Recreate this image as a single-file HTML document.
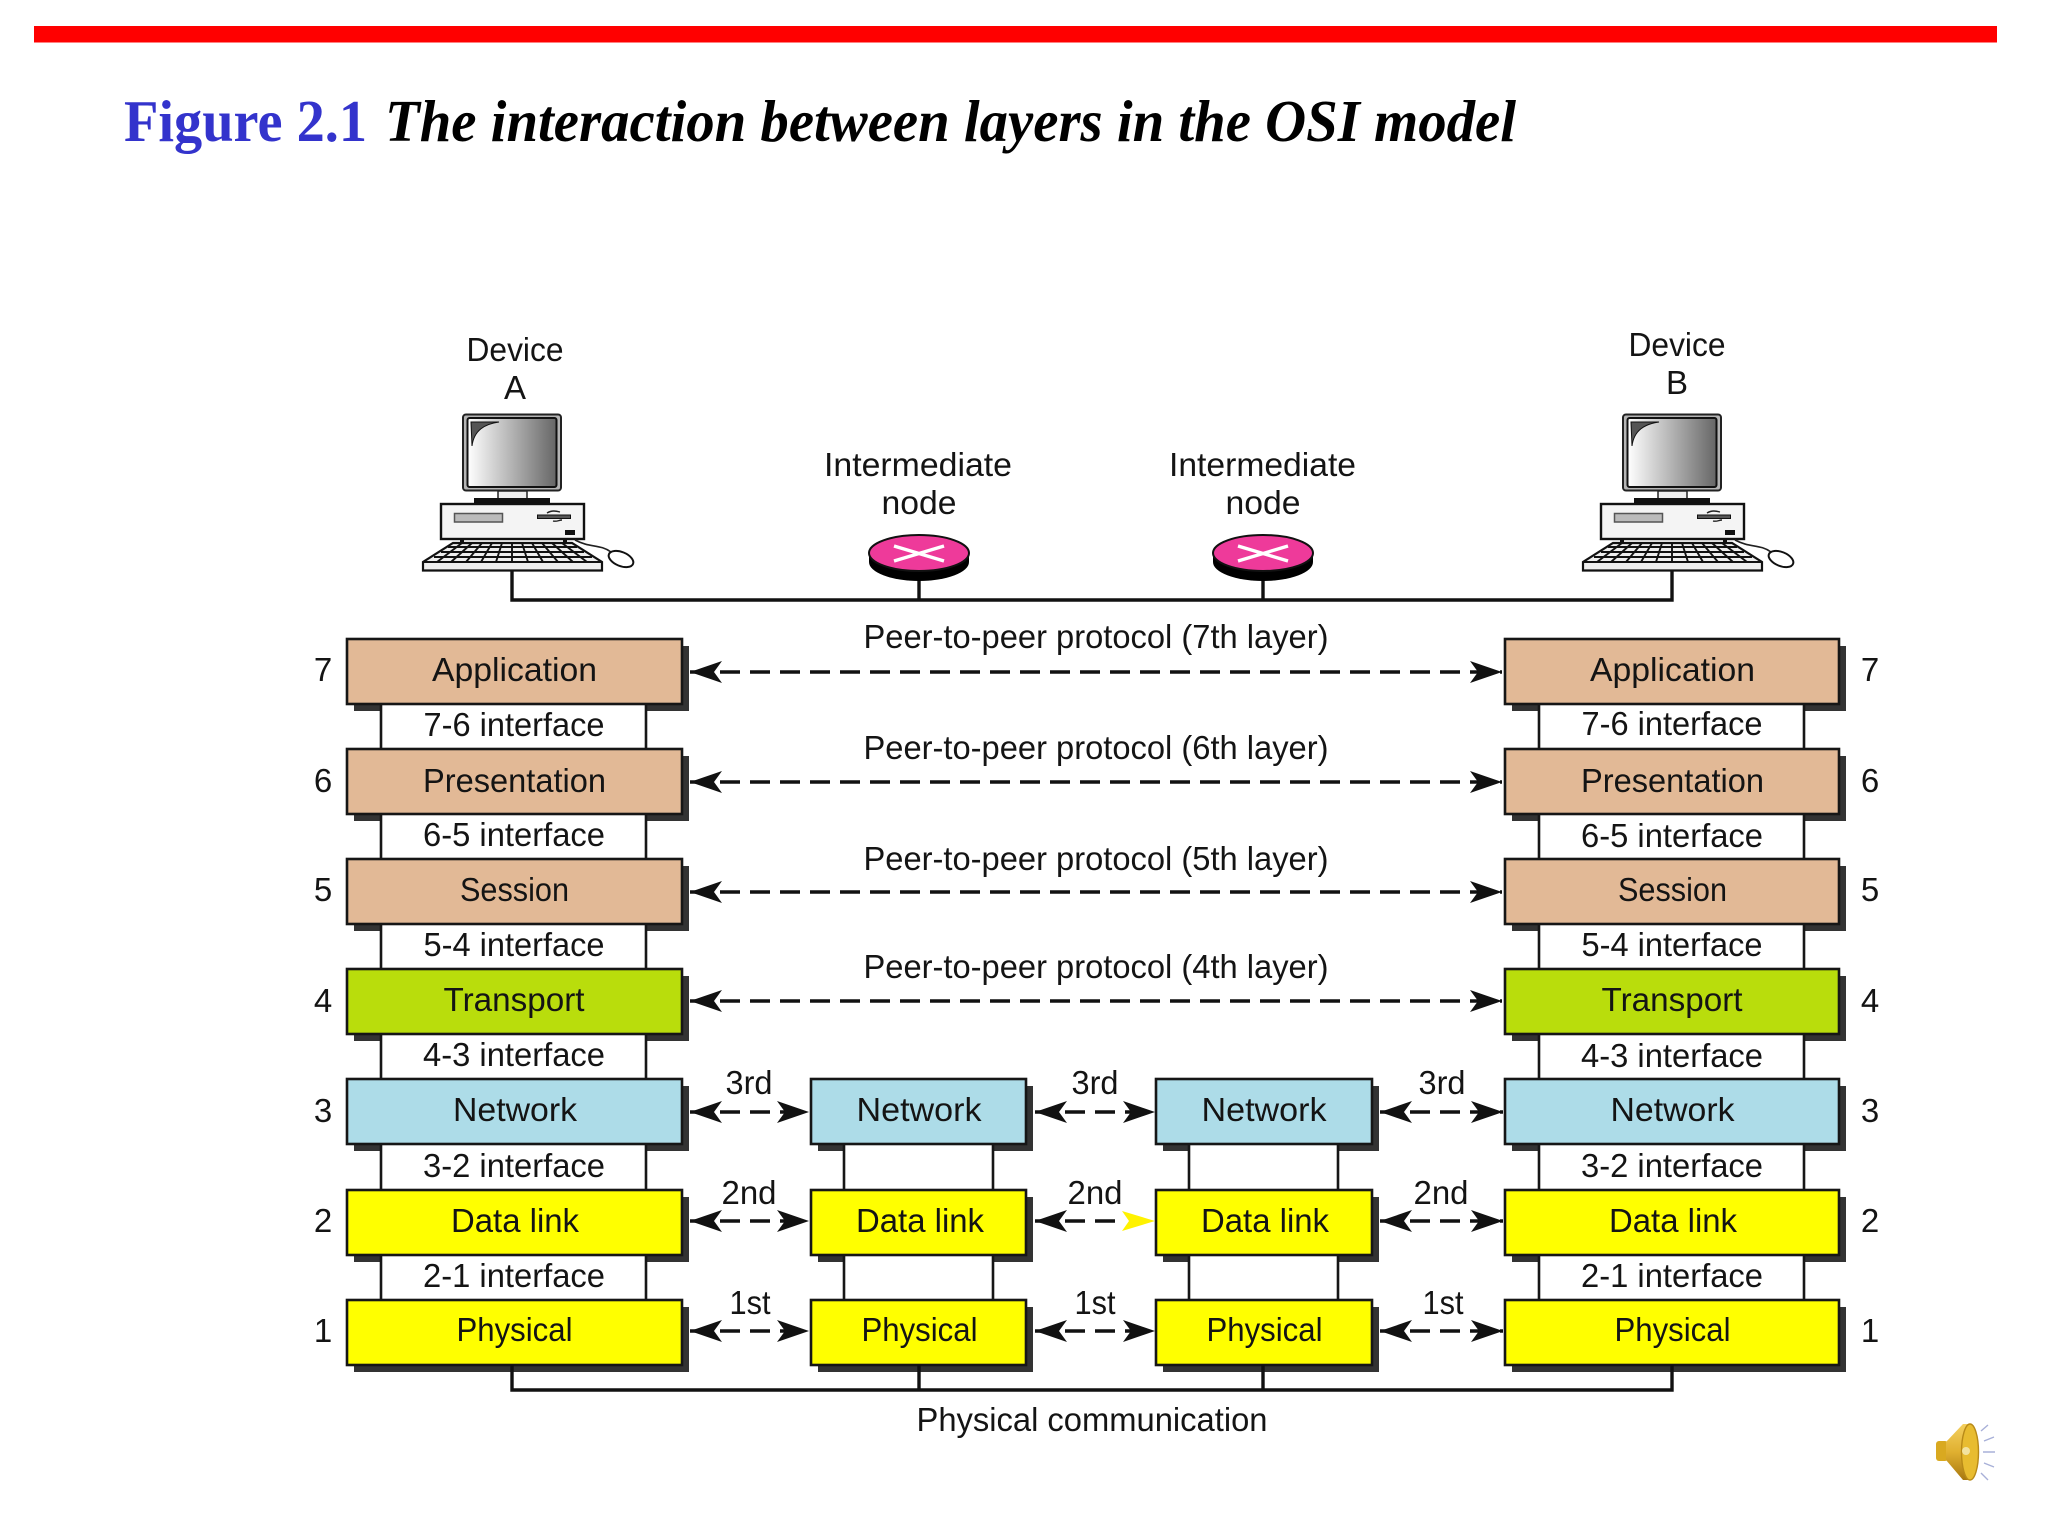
<!DOCTYPE html>
<html><head><meta charset="utf-8"><title>Figure 2.1</title>
<style>
html,body{margin:0;padding:0;background:#fff}
svg{display:block}
text{font-family:"Liberation Sans",sans-serif;font-size:33px;fill:#141414;text-anchor:middle}
.t{font-family:"Liberation Serif",serif;font-size:59px;font-weight:bold;text-anchor:start}
.b{fill:#333}
.box{stroke:#161616;stroke-width:2.6}
.tan{fill:#E2B996}.lime{fill:#B9DD0C}.blue{fill:#ADDCE8}.yel{fill:#FFFF00}
.if{fill:#fff;stroke:none}
.v{stroke:#161616;stroke-width:2.6}
.l{stroke:#111;stroke-width:3.4;fill:none}
.d{stroke:#111;stroke-width:3.6;stroke-dasharray:20 10;marker-start:url(#ah);marker-end:url(#ah)}
</style></head>
<body>
<svg xmlns="http://www.w3.org/2000/svg" width="2048" height="1536" viewBox="0 0 2048 1536">
<defs>
<marker id="ah" markerUnits="userSpaceOnUse" markerWidth="33" markerHeight="23" viewBox="0 0 33 23" refX="32" refY="11.5" orient="auto-start-reverse"><path d="M32,11.5 L0,0.5 L8,11.5 L0,22.5 Z" fill="#111"/></marker>
<linearGradient id="scr" x1="0" x2="1" y1="0" y2="0"><stop offset="0" stop-color="#fff"/><stop offset="1" stop-color="#666"/></linearGradient>
<linearGradient id="gold" x1="0" x2="0" y1="0" y2="1"><stop offset="0" stop-color="#F4D060"/><stop offset=".5" stop-color="#E0B030"/><stop offset="1" stop-color="#A87810"/></linearGradient>
<g id="pc">
<rect x="463" y="414.5" width="98" height="76" rx="3" fill="#b5b5b5" stroke="#222" stroke-width="2"/>
<rect x="467.5" y="418" width="89" height="69" rx="2" fill="url(#scr)" stroke="#111" stroke-width="2"/>
<path d="M471,422 L499,422 C485,424 474,430 472,446 Z" fill="#555" stroke="#111" stroke-width="1"/>
<rect x="498" y="491" width="29" height="8" fill="#eee" stroke="#222" stroke-width="1.5"/>
<rect x="474" y="498" width="76" height="6" fill="#111"/>
<rect x="441" y="504" width="143" height="35" fill="#f4f4f4" stroke="#111" stroke-width="2.4"/>
<rect x="454.5" y="513.5" width="48" height="8.5" fill="#bbb" stroke="#555" stroke-width="1.5"/>
<rect x="537.5" y="515" width="33" height="3.5" fill="#555" stroke="#111" stroke-width="1"/>
<path d="M547,513 C552,510 556,511 560,512 M553,521 C557,522 559,520 562,520" stroke="#222" stroke-width="1.4" fill="none"/>
<rect x="565" y="530" width="10" height="5" fill="#111"/>
<rect x="460" y="539" width="4" height="5" fill="#111"/><rect x="563" y="539" width="4" height="5" fill="#111"/>
<path d="M575,540 C590,548 600,544 611,552" stroke="#222" stroke-width="1.6" fill="none"/>
<ellipse cx="621" cy="559" rx="13" ry="7" transform="rotate(22 621 559)" fill="#fff" stroke="#111" stroke-width="2"/>
<path d="M453,543 L572,543 L602,562 L602,570.5 L423,570.5 L423,562 Z" fill="#eee" stroke="#111" stroke-width="2.2"/>
<path d="M448,547 L577,547 M441,552 L584,552 M434,557 L592,557 M423,562 L602,562 M462,543 L437,562 M472,543 L451,562 M482,543 L466,562 M492,543 L481,562 M502,543 L496,562 M512,543 L512,562 M522,543 L528,562 M532,543 L543,562 M542,543 L558,562 M552,543 L573,562 M562,543 L587,562" stroke="#111" stroke-width="1.9" fill="none"/>
</g>
</defs>
<rect width="2048" height="1536" fill="#fff"/>
<rect x="34" y="26" width="1963" height="16.5" fill="#FF0000"/>
<text class="t" x="124" y="141" textLength="243" lengthAdjust="spacingAndGlyphs" style="fill:#3333CC">Figure 2.1</text>
<text class="t" x="385" y="141" textLength="1131" lengthAdjust="spacingAndGlyphs" style="font-style:italic;fill:#000">The interaction between layers in the OSI model</text>

<text x="515" y="361" textLength="97" lengthAdjust="spacingAndGlyphs">Device</text>
<text x="515" y="399">A</text>
<text x="1677" y="356" textLength="97" lengthAdjust="spacingAndGlyphs">Device</text>
<text x="1677" y="394">B</text>
<text x="918" y="476" textLength="188" lengthAdjust="spacingAndGlyphs">Intermediate</text>
<text x="919" y="514" textLength="75" lengthAdjust="spacingAndGlyphs">node</text>
<text x="1262.5" y="476" textLength="187" lengthAdjust="spacingAndGlyphs">Intermediate</text>
<text x="1263" y="514" textLength="75" lengthAdjust="spacingAndGlyphs">node</text>

<use href="#pc"/>
<use href="#pc" x="1160"/>
<path class="l" d="M512,571 V600 H1672 V571 M919,580 V600 M1263,580 V600"/>

<g>
<path d="M869,553 V562 A50,19 0 0 0 969,562 V553 Z" fill="#000"/>
<ellipse cx="919" cy="553" rx="50" ry="18" fill="#EE3A9A" stroke="#111" stroke-width="2"/>
<path d="M894,546 L944,561 M894,561 L944,546" stroke="#fff" stroke-width="3.4"/>
<path d="M1213,553 V562 A50,19 0 0 0 1313,562 V553 Z" fill="#000"/>
<ellipse cx="1263" cy="553" rx="50" ry="18" fill="#EE3A9A" stroke="#111" stroke-width="2"/>
<path d="M1238,546 L1288,561 M1238,561 L1288,546" stroke="#fff" stroke-width="3.4"/>
</g>

<!-- shadows -->
<g class="b">
<rect x="354" y="646" width="335" height="65"/><rect x="354" y="756" width="335" height="65"/><rect x="354" y="866" width="335" height="65"/><rect x="354" y="976" width="335" height="65"/><rect x="354" y="1086" width="335" height="65"/><rect x="354" y="1197" width="335" height="65"/><rect x="354" y="1307" width="335" height="65"/>
<rect x="1512" y="646" width="334" height="65"/><rect x="1512" y="756" width="334" height="65"/><rect x="1512" y="866" width="334" height="65"/><rect x="1512" y="976" width="334" height="65"/><rect x="1512" y="1086" width="334" height="65"/><rect x="1512" y="1197" width="334" height="65"/><rect x="1512" y="1307" width="334" height="65"/>
<rect x="818" y="1086" width="215" height="65"/><rect x="818" y="1197" width="215" height="65"/><rect x="818" y="1307" width="215" height="65"/>
<rect x="1163" y="1086" width="216" height="65"/><rect x="1163" y="1197" width="216" height="65"/><rect x="1163" y="1307" width="216" height="65"/>
</g>

<!-- interface strips -->
<g class="if">
<rect x="381" y="704" width="265" height="45"/><rect x="381" y="814" width="265" height="45"/><rect x="381" y="924" width="265" height="45"/><rect x="381" y="1034" width="265" height="45"/><rect x="381" y="1144" width="265" height="46"/><rect x="381" y="1255" width="265" height="45"/>
<rect x="1539" y="704" width="265" height="45"/><rect x="1539" y="814" width="265" height="45"/><rect x="1539" y="924" width="265" height="45"/><rect x="1539" y="1034" width="265" height="45"/><rect x="1539" y="1144" width="265" height="46"/><rect x="1539" y="1255" width="265" height="45"/>
<rect x="844" y="1144" width="149" height="46"/><rect x="844" y="1255" width="149" height="45"/>
<rect x="1189" y="1144" width="149" height="46"/><rect x="1189" y="1255" width="149" height="45"/>
</g>
<path class="v" fill="none" d="M381,704 V1300 M646,704 V1300 M1539,704 V1300 M1804,704 V1300 M844,1144 V1300 M993,1144 V1300 M1189,1144 V1300 M1338,1144 V1300"/>

<!-- layer boxes -->
<g class="box">
<rect class="tan" x="347" y="639" width="335" height="65"/><rect class="tan" x="347" y="749" width="335" height="65"/><rect class="tan" x="347" y="859" width="335" height="65"/>
<rect class="lime" x="347" y="969" width="335" height="65"/><rect class="blue" x="347" y="1079" width="335" height="65"/><rect class="yel" x="347" y="1190" width="335" height="65"/><rect class="yel" x="347" y="1300" width="335" height="65"/>
<rect class="tan" x="1505" y="639" width="334" height="65"/><rect class="tan" x="1505" y="749" width="334" height="65"/><rect class="tan" x="1505" y="859" width="334" height="65"/>
<rect class="lime" x="1505" y="969" width="334" height="65"/><rect class="blue" x="1505" y="1079" width="334" height="65"/><rect class="yel" x="1505" y="1190" width="334" height="65"/><rect class="yel" x="1505" y="1300" width="334" height="65"/>
<rect class="blue" x="811" y="1079" width="215" height="65"/><rect class="yel" x="811" y="1190" width="215" height="65"/><rect class="yel" x="811" y="1300" width="215" height="65"/>
<rect class="blue" x="1156" y="1079" width="216" height="65"/><rect class="yel" x="1156" y="1190" width="216" height="65"/><rect class="yel" x="1156" y="1300" width="216" height="65"/>
</g>

<!-- bottom line -->
<path class="l" d="M512,1365 V1390 H1672 V1365 M919,1365 V1390 M1263,1365 V1390"/>
<text x="1092" y="1431" textLength="351" lengthAdjust="spacingAndGlyphs">Physical communication</text>

<!-- arrows -->
<line class="d" x1="690" y1="672" x2="1502" y2="672"/>
<line class="d" x1="690" y1="782" x2="1502" y2="782"/>
<line class="d" x1="690" y1="892" x2="1502" y2="892"/>
<line class="d" x1="690" y1="1001" x2="1502" y2="1001"/>
<line class="d" x1="690" y1="1112" x2="809" y2="1112"/>
<line class="d" x1="690" y1="1221" x2="809" y2="1221"/>
<line class="d" x1="690" y1="1331" x2="809" y2="1331"/>
<line class="d" x1="1035" y1="1112" x2="1155" y2="1112"/>
<line class="d" x1="1035" y1="1221" x2="1125" y2="1221" style="marker-end:none"/>
<path d="M1155,1221 L1122,1211 L1129,1221 L1122,1231 Z" fill="#FFF200"/>
<line class="d" x1="1035" y1="1331" x2="1155" y2="1331"/>
<line class="d" x1="1380" y1="1112" x2="1503" y2="1112"/>
<line class="d" x1="1380" y1="1221" x2="1503" y2="1221"/>
<line class="d" x1="1380" y1="1331" x2="1503" y2="1331"/>

<!-- peer labels -->
<text x="1096" y="648" textLength="465" lengthAdjust="spacingAndGlyphs">Peer-to-peer protocol (7th layer)</text>
<text x="1096" y="759" textLength="465" lengthAdjust="spacingAndGlyphs">Peer-to-peer protocol (6th layer)</text>
<text x="1096" y="870" textLength="465" lengthAdjust="spacingAndGlyphs">Peer-to-peer protocol (5th layer)</text>
<text x="1096" y="978" textLength="465" lengthAdjust="spacingAndGlyphs">Peer-to-peer protocol (4th layer)</text>

<!-- short labels -->
<text x="749" y="1094" textLength="47" lengthAdjust="spacingAndGlyphs">3rd</text><text x="1095" y="1094" textLength="47" lengthAdjust="spacingAndGlyphs">3rd</text><text x="1442" y="1094" textLength="47" lengthAdjust="spacingAndGlyphs">3rd</text>
<text x="749" y="1204" textLength="55" lengthAdjust="spacingAndGlyphs">2nd</text><text x="1095" y="1204" textLength="55" lengthAdjust="spacingAndGlyphs">2nd</text><text x="1441" y="1204" textLength="55" lengthAdjust="spacingAndGlyphs">2nd</text>
<text x="750" y="1314" textLength="41" lengthAdjust="spacingAndGlyphs">1st</text><text x="1095" y="1314" textLength="41" lengthAdjust="spacingAndGlyphs">1st</text><text x="1443" y="1314" textLength="41" lengthAdjust="spacingAndGlyphs">1st</text>

<!-- left labels -->
<text x="514.5" y="681" textLength="165" lengthAdjust="spacingAndGlyphs">Application</text>
<text x="514.5" y="792" textLength="183" lengthAdjust="spacingAndGlyphs">Presentation</text>
<text x="514.5" y="901" textLength="109" lengthAdjust="spacingAndGlyphs">Session</text>
<text x="514" y="1011" textLength="141" lengthAdjust="spacingAndGlyphs">Transport</text>
<text x="515" y="1121" textLength="124" lengthAdjust="spacingAndGlyphs">Network</text>
<text x="515" y="1232" textLength="128" lengthAdjust="spacingAndGlyphs">Data link</text>
<text x="514.5" y="1341" textLength="116" lengthAdjust="spacingAndGlyphs">Physical</text>
<!-- right labels -->
<text x="1672.5" y="681" textLength="165" lengthAdjust="spacingAndGlyphs">Application</text>
<text x="1672.5" y="792" textLength="183" lengthAdjust="spacingAndGlyphs">Presentation</text>
<text x="1672.5" y="901" textLength="109" lengthAdjust="spacingAndGlyphs">Session</text>
<text x="1672" y="1011" textLength="141" lengthAdjust="spacingAndGlyphs">Transport</text>
<text x="1672.5" y="1121" textLength="124" lengthAdjust="spacingAndGlyphs">Network</text>
<text x="1673" y="1232" textLength="128" lengthAdjust="spacingAndGlyphs">Data link</text>
<text x="1672.5" y="1341" textLength="116" lengthAdjust="spacingAndGlyphs">Physical</text>
<!-- middle labels -->
<text x="919" y="1121" textLength="125" lengthAdjust="spacingAndGlyphs">Network</text>
<text x="920" y="1232" textLength="128" lengthAdjust="spacingAndGlyphs">Data link</text>
<text x="919.5" y="1341" textLength="116" lengthAdjust="spacingAndGlyphs">Physical</text>
<text x="1264" y="1121" textLength="125" lengthAdjust="spacingAndGlyphs">Network</text>
<text x="1265" y="1232" textLength="128" lengthAdjust="spacingAndGlyphs">Data link</text>
<text x="1264.5" y="1341" textLength="116" lengthAdjust="spacingAndGlyphs">Physical</text>
<!-- interface labels -->
<text x="514" y="736" textLength="181" lengthAdjust="spacingAndGlyphs">7-6 interface</text>
<text x="514" y="846" textLength="182" lengthAdjust="spacingAndGlyphs">6-5 interface</text>
<text x="514" y="956" textLength="181" lengthAdjust="spacingAndGlyphs">5-4 interface</text>
<text x="514" y="1066" textLength="182" lengthAdjust="spacingAndGlyphs">4-3 interface</text>
<text x="514" y="1177" textLength="182" lengthAdjust="spacingAndGlyphs">3-2 interface</text>
<text x="514" y="1287" textLength="182" lengthAdjust="spacingAndGlyphs">2-1 interface</text>
<text x="1672" y="735" textLength="181" lengthAdjust="spacingAndGlyphs">7-6 interface</text>
<text x="1672" y="847" textLength="182" lengthAdjust="spacingAndGlyphs">6-5 interface</text>
<text x="1672" y="956" textLength="181" lengthAdjust="spacingAndGlyphs">5-4 interface</text>
<text x="1672" y="1067" textLength="182" lengthAdjust="spacingAndGlyphs">4-3 interface</text>
<text x="1672" y="1177" textLength="182" lengthAdjust="spacingAndGlyphs">3-2 interface</text>
<text x="1672" y="1287" textLength="182" lengthAdjust="spacingAndGlyphs">2-1 interface</text>
<!-- numbers -->
<text x="323" y="681">7</text><text x="323" y="792">6</text><text x="323" y="901">5</text><text x="323" y="1012">4</text><text x="323" y="1122">3</text><text x="323" y="1232">2</text><text x="323" y="1342">1</text>
<text x="1870" y="681">7</text><text x="1870" y="792">6</text><text x="1870" y="901">5</text><text x="1870" y="1012">4</text><text x="1870" y="1122">3</text><text x="1870" y="1232">2</text><text x="1870" y="1342">1</text>

<!-- speaker -->
<g>
<rect x="1936" y="1441" width="12" height="20" rx="3" fill="#D9A920"/>
<path d="M1946,1442 L1963,1424 H1970 V1480 H1963 L1946,1460 Z" fill="url(#gold)"/>
<ellipse cx="1970" cy="1452" rx="8.5" ry="28" fill="#E8BC30" stroke="#B88A18" stroke-width="1.4"/>
<circle cx="1966" cy="1451" r="4" fill="#F3E3A0"/>
<path d="M1981,1431 L1988,1425 M1984,1441 L1994,1437 M1983,1452 L1995,1452 M1984,1463 L1994,1467 M1981,1473 L1988,1480" stroke="#A8B0D8" stroke-width="1.4" fill="none"/>
</g>
</svg>
</body></html>
